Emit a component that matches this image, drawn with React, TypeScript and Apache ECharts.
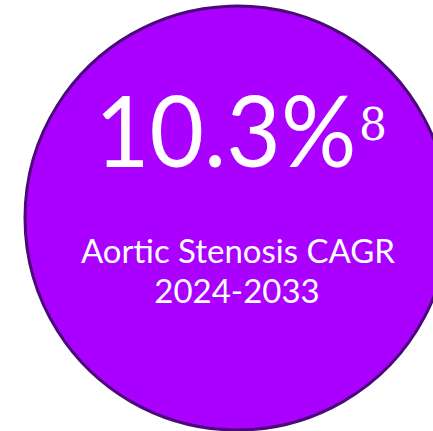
import React, { useEffect, useRef } from "react";
import * as echarts from "echarts";

const headlineValue = ["10.3%"];
const footnoteMarks = ["8"];
const subtitleLines = ["Aortic Stenosis CAGR", "2024-2033"];

export default function App() {
  const ref = useRef<HTMLDivElement>(null);
  useEffect(() => {
    document.body.style.margin = "0";
    const chart = echarts.init(ref.current!, undefined, { renderer: "svg" });
    chart.setOption({
      animation: false,
      backgroundColor: "#ffffff",
      graphic: [
        {
          type: "circle",
          shape: { cx: 237, cy: 218, r: 212 },
          style: { fill: "#AA00FF", stroke: "#4A0A78", lineWidth: 3 },
        },
        {
          type: "text",
          x: 95,
          y: 178,
          scaleX: 0.96,
          style: {
            text: headlineValue[0],
            fill: "#ffffff",
            fontSize: 98,
            fontFamily: "Lato",
            textAlign: "left",
            textVerticalAlign: "bottom",
          },
        },
        {
          type: "text",
          x: 359,
          y: 146,
          style: {
            text: footnoteMarks[0],
            fill: "#ffffff",
            fontSize: 44,
            fontFamily: "DejaVu Serif",
            textAlign: "left",
            textVerticalAlign: "bottom",
          },
        },
        {
          type: "text",
          x: 238,
          y: 266,
          style: {
            text: subtitleLines[0],
            fill: "#ffffff",
            fontSize: 33,
            fontFamily: "Lato",
            textAlign: "center",
            textVerticalAlign: "bottom",
          },
        },
        {
          type: "text",
          x: 237,
          y: 306,
          style: {
            text: subtitleLines[1],
            fill: "#ffffff",
            fontSize: 33,
            fontFamily: "Lato",
            textAlign: "center",
            textVerticalAlign: "bottom",
          },
        },
      ],
    });
    return () => chart.dispose();
  }, []);
  return <div ref={ref} style={{ width: 433, height: 431 }} />;
}
